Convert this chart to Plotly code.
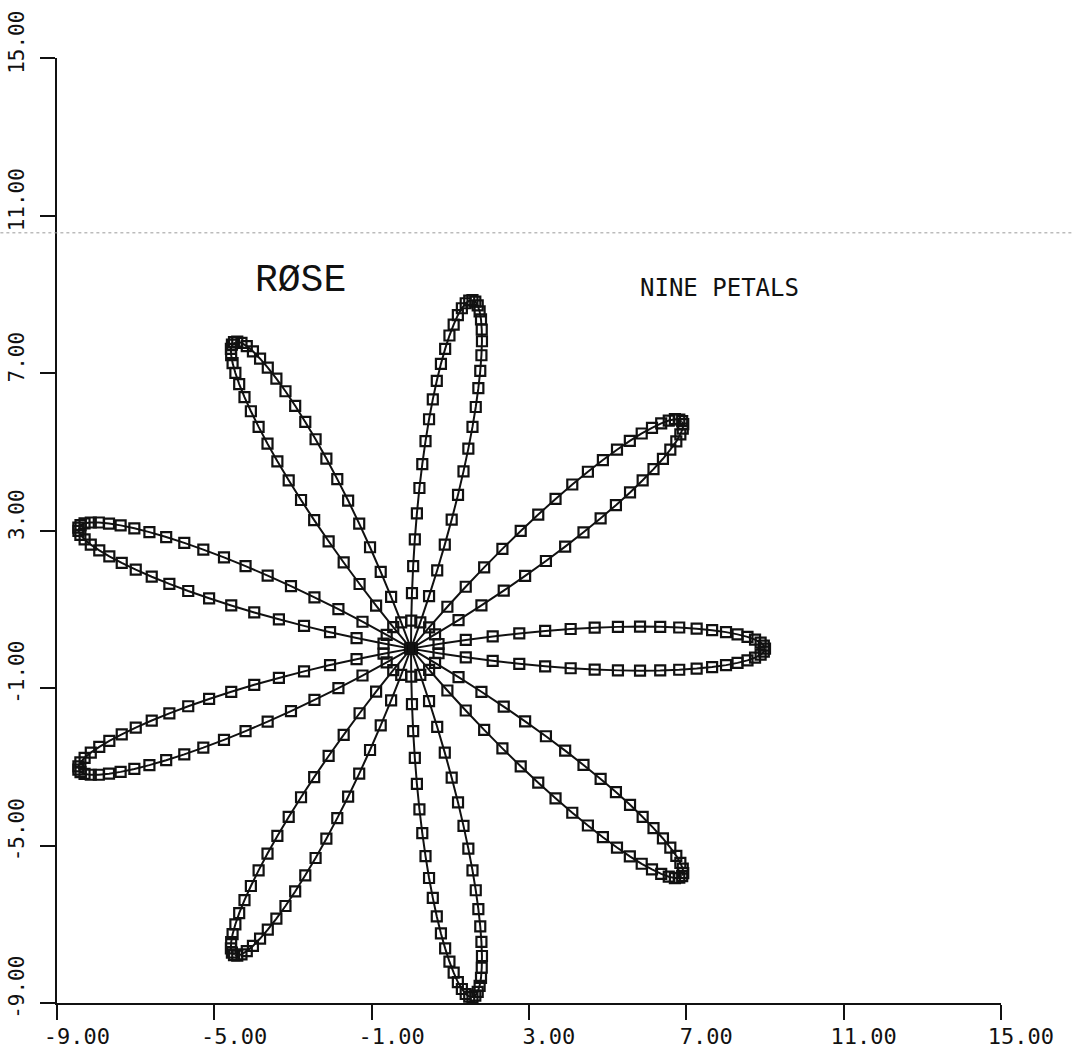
import plotly.graph_objects as go

# ── data ─────────────────────────────────────────────────────────────────────
# nine petals, axis direction of each petal tip (degrees)
PETAL_ANGLES = [0, 40, 80, 120, 160, 200, 240, 280, 320]

# angular offset of every plotted point from its petal axis (degrees)
THETA_OFFSETS = [-10.0, -9.5, -9.0, -8.5, -8.0, -7.5, -7.0, -6.5, -6.0, -5.5,
                 -5.0, -4.5, -4.0, -3.5, -3.0, -2.5, -2.0, -1.5, -1.0, -0.5,
                 0.0, 0.5, 1.0, 1.5, 2.0, 2.5, 3.0, 3.5, 4.0, 4.5,
                 5.0, 5.5, 6.0, 6.5, 7.0, 7.5, 8.0, 8.5, 9.0, 9.5, 10.0]

# distance of each point from the centre, read along one petal
R_PROFILE = [0.00, 0.71, 1.41, 2.10, 2.78, 3.44, 4.09, 4.70, 5.29, 5.85,
             6.36, 6.84, 7.28, 7.67, 8.02, 8.31, 8.56, 8.75, 8.89, 8.97,
             9.00, 8.97, 8.89, 8.75, 8.56, 8.31, 8.02, 7.67, 7.28, 6.84,
             6.36, 5.85, 5.29, 4.70, 4.09, 3.44, 2.78, 2.10, 1.41, 0.71, 0.00]

TICKS = [-9, -5, -1, 3, 7, 11, 15]
TICK_LABELS = ["-9.00", "-5.00", "-1.00", "3.00", "7.00", "11.00", "15.00"]

TITLE = "RØSE"
SUBTITLE = "NINE PETALS"

# ── style ────────────────────────────────────────────────────────────────────
INK = "#111111"
FONT = "DejaVu Sans Mono"
W, H = 1073, 1054
M_L, M_R, M_T, M_B = 57, 72, 58, 51
NBSP = "\u00a0"

theta, r = [], []
for a in PETAL_ANGLES:
    for off, rad in zip(THETA_OFFSETS, R_PROFILE):
        theta.append(a + off)
        r.append(rad)

# plotter put its labels starting at the tick rather than centred on it
x_labels = [NBSP * 3 + t for t in TICK_LABELS]
y_labels = [NBSP * 2 + t for t in TICK_LABELS]

fig = go.Figure()

# invisible cartesian frame carries the axes
fig.add_trace(go.Scatter(x=[-9, 15], y=[-9, 15], mode="markers",
                         marker=dict(opacity=0), hoverinfo="skip",
                         showlegend=False))

fig.add_trace(go.Scatterpolar(
    r=r, theta=theta,
    mode="lines+markers",
    line=dict(color=INK, width=2),
    marker=dict(symbol="square-open", size=10, color=INK,
                line=dict(color=INK, width=2.2)),
    cliponaxis=False,
    showlegend=False,
))

axis_common = dict(
    range=[-9, 15],
    tickvals=TICKS,
    ticks="outside",
    ticklen=15,
    tickwidth=2,
    tickcolor=INK,
    showline=True,
    linecolor=INK,
    linewidth=2,
    showgrid=False,
    zeroline=False,
    fixedrange=True,
    automargin=False,
    ticklabeloverflow="allow",
)

fig.update_layout(
    width=W, height=H,
    autosize=False,
    paper_bgcolor="white",
    plot_bgcolor="white",
    margin=dict(l=M_L, r=M_R, t=M_T, b=M_B, pad=0),
    xaxis=dict(**axis_common, ticktext=x_labels, ticklabelstandoff=-2,
               tickfont=dict(family=FONT, size=22, color=INK)),
    yaxis=dict(**axis_common, ticktext=y_labels, tickangle=-90,
               ticklabelstandoff=8,
               tickfont=dict(family=FONT, size=21, color=INK)),
    # polar subplot centred on (0,0) of the cartesian frame, radius 9 units
    polar=dict(
        domain=dict(x=[0, 0.75], y=[0, 0.75]),
        bgcolor="rgba(0,0,0,0)",
        radialaxis=dict(range=[0, 9], visible=False, showgrid=False),
        angularaxis=dict(visible=False, showgrid=False, rotation=0,
                         direction="counterclockwise"),
    ),
    showlegend=False,
)

fig.add_annotation(x=-2.8, y=9.34, xref="x", yref="y", text=TITLE,
                   showarrow=False, xanchor="center", yanchor="middle",
                   font=dict(family="Liberation Mono", size=38, color=INK))
fig.add_annotation(x=7.84, y=9.16, xref="x", yref="y", text=SUBTITLE,
                   showarrow=False, xanchor="center", yanchor="middle",
                   font=dict(family=FONT, size=24, color=INK))

# faint dotted scan line across the sheet
fig.add_shape(type="line", xref="paper", yref="y",
              x0=-0.06, x1=1.08, y0=10.56, y1=10.56,
              line=dict(color="#9a9a9a", width=1, dash="dot"))

# let the figure fill the window instead of sitting inside the body margin
fig.write_html("out.html", config={"displayModeBar": False},
               post_script="document.body.style.margin='0';")
